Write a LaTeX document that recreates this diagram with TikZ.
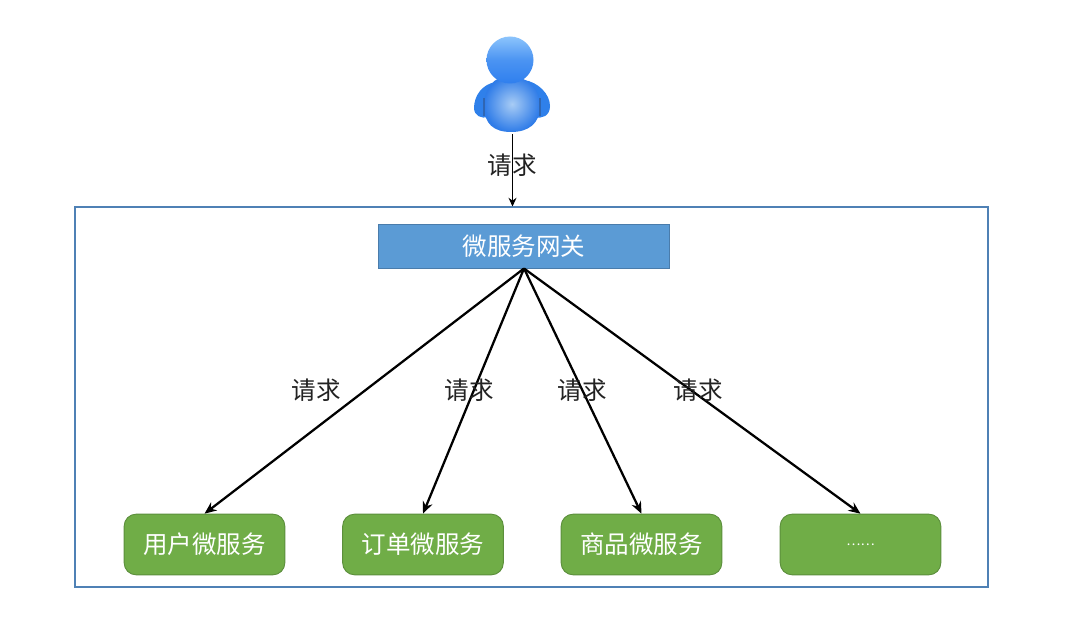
\documentclass[tikz,border=0pt]{standalone}
\usepackage{fontspec}
\setmainfont{Noto Sans CJK SC}
\usetikzlibrary{arrows.meta,positioning,calc}
\definecolor{frameblue}{HTML}{4F81B5}
\definecolor{gwblue}{HTML}{5B9BD5}
\definecolor{gwedge}{HTML}{4A7CAB}
\definecolor{svcgreen}{HTML}{70AD47}
\definecolor{svcedge}{HTML}{5C8F3C}
\definecolor{txt}{HTML}{222222}
\definecolor{iconarm}{HTML}{2F80EA}
\definecolor{iconlight}{HTML}{A8CCF5}
\definecolor{iconmid}{HTML}{2F7CE8}
\definecolor{iconhead}{HTML}{2F7FEE}
\definecolor{iconheadlight}{HTML}{8CC4FC}
\definecolor{iconshadow}{HTML}{2F5C9C}
\tikzset{
  x=0.75pt,y=-0.75pt,
  flow/.style={draw=black,line width=1.7pt,-{Stealth[length=9pt,width=7.5pt]}},
  thinflow/.style={draw=black,line width=0.8pt,-{Stealth[length=6.5pt,width=6pt]}},
  lbl/.style={font=\fontsize{18.4}{20}\selectfont,text=txt,inner sep=0pt},
  svc/.style={draw=svcedge,line width=0.7pt,fill=svcgreen,rounded corners=9pt,minimum width=120.5pt,minimum height=45.5pt,text=white,inner sep=0pt,font=\fontsize{18.4}{20}\selectfont},
}
\begin{document}
\begin{tikzpicture}
\useasboundingbox (0,0) rectangle (1077,624);
\fill[white] (0,0) rectangle (1077,624);
% user icon
\path[fill=iconarm]
  (496,82) .. controls (482,84) and (474,96) .. (474,108) .. controls (474,116) and (482,119) .. (488,117)
  -- (535,117) .. controls (542,119) and (550,116) .. (550,106) .. controls (550,94) and (538,82) .. (524,80) -- cycle;
\shade[inner color=iconlight,outer color=iconmid]
  (510,76) .. controls (494,76) and (484,88) .. (484,106) .. controls (484,124) and (494,132) .. (511,132)
  .. controls (528,132) and (540,124) .. (540,106) .. controls (540,88) and (526,76) .. (510,76) -- cycle;
\draw[iconshadow,line width=1pt,opacity=.7] (484,98) -- (484,116);
\draw[iconshadow,line width=1pt,opacity=.7] (540,98) -- (540,116);
\shade[top color=iconheadlight,bottom color=iconhead,middle color=iconhead!70!iconheadlight] (510,60) circle (23.5);
\node[inner sep=0pt,minimum size=0pt] (user) at (512.5,134) {};
% frame
\node[draw=frameblue,line width=0.8pt,minimum width=684.75pt,minimum height=285pt,inner sep=0pt] (frame) at (531.5,397) {};
\node[draw=gwedge,line width=0.7pt,fill=gwblue,minimum width=218.5pt,minimum height=33pt,text=white,inner sep=0pt,font=\fontsize{18.4}{20}\selectfont] (gw) at (524,246) {微服务网关};
\node[svc] (s1) at (204.5,544.5) {用户微服务};
\node[svc] (s2) at (423,544.5) {订单微服务};
\node[svc] (s3) at (641.5,544.5) {商品微服务};
\node[svc,font=\fontsize{10}{10}\selectfont] (s4) at (860.5,544.5) {……};
\draw[thinflow] (user) -- (user |- frame.north);
\draw[flow] (gw.south) -- (s1.north);
\draw[flow] (gw.south) -- (s2.north);
\draw[flow] (gw.south) -- (s3.north);
\draw[flow] (gw.south) -- (s4.north);
\node[lbl] (l0) at (512,165) {请求};
\node[lbl] (l1) at (316,390) {请求};
\node[lbl] (l2) at (469,390) {请求};
\node[lbl] (l3) at (582,390) {请求};
\node[lbl] (l4) at (698,390) {请求};
\end{tikzpicture}
\end{document}
